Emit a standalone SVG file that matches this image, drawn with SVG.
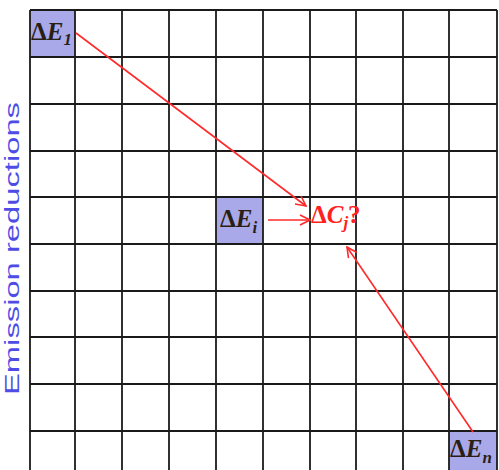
<svg xmlns="http://www.w3.org/2000/svg" width="499" height="470" viewBox="0 0 499 470">
<style>
.grid line{stroke:#1a1a1a;stroke-width:1.8}
.cell{fill:#a9a9ea}
.lbl{font-family:"Liberation Serif",serif;font-weight:bold;font-style:italic;font-size:25px;fill:#2a1f14}
.up{font-style:normal}
.sub{font-size:17px}
.red{fill:#ff2020}
.arr{stroke:#ff2a2a;stroke-width:1.6;fill:none}
.axis{font-family:"Liberation Sans",Arial,sans-serif;font-size:21px;fill:#4d4de6}
</style>
<defs>
<marker id="ah" markerWidth="12" markerHeight="12" refX="11" refY="6" orient="auto" markerUnits="userSpaceOnUse">
<path d="M1,1 L11,6 L1,11" fill="none" stroke="#ff2a2a" stroke-width="1.6"/>
</marker>
</defs>
<rect width="499" height="470" fill="#ffffff"/>
<g id="cell-E1"><rect class="cell" x="30" y="10" width="45" height="47"/></g>
<g id="cell-Ei"><rect class="cell" x="216" y="197" width="47" height="47"/></g>
<g id="cell-En"><rect class="cell" x="449" y="431" width="48" height="39"/></g>
<g class="grid">
<line x1="30" y1="10" x2="30" y2="470"/>
<line x1="75" y1="10" x2="75" y2="470"/>
<line x1="122" y1="10" x2="122" y2="470"/>
<line x1="169" y1="10" x2="169" y2="470"/>
<line x1="216" y1="10" x2="216" y2="470"/>
<line x1="263" y1="10" x2="263" y2="470"/>
<line x1="310" y1="10" x2="310" y2="470"/>
<line x1="356" y1="10" x2="356" y2="470"/>
<line x1="403" y1="10" x2="403" y2="470"/>
<line x1="449" y1="10" x2="449" y2="470"/>
<line x1="497" y1="10" x2="497" y2="470"/>
<line x1="30" y1="10" x2="497" y2="10"/>
<line x1="30" y1="57" x2="497" y2="57"/>
<line x1="30" y1="104" x2="497" y2="104"/>
<line x1="30" y1="151" x2="497" y2="151"/>
<line x1="30" y1="197" x2="497" y2="197"/>
<line x1="30" y1="244" x2="497" y2="244"/>
<line x1="30" y1="291" x2="497" y2="291"/>
<line x1="30" y1="337" x2="497" y2="337"/>
<line x1="30" y1="384" x2="497" y2="384"/>
<line x1="30" y1="431" x2="497" y2="431"/>
</g>
<g id="node-E1"><text class="lbl" x="31" y="40"><tspan class="up">Δ</tspan>E<tspan class="sub" dy="5">1</tspan></text></g>
<g id="node-Ei"><text class="lbl" x="220" y="227"><tspan class="up">Δ</tspan>E<tspan class="sub" dy="6">i</tspan></text></g>
<g id="node-Cj"><text class="lbl red" x="311" y="223"><tspan class="up">Δ</tspan>C<tspan class="sub" dy="5">j</tspan><tspan class="up" dy="-5">?</tspan></text></g>
<g id="node-En"><text class="lbl" x="450" y="457"><tspan class="up">Δ</tspan>E<tspan class="sub" dy="6">n</tspan></text></g>
<g id="connectors">
<line class="arr" x1="76" y1="33" x2="306" y2="206" marker-end="url(#ah)"/>
<line class="arr" x1="268" y1="220" x2="310" y2="220" marker-end="url(#ah)"/>
<line class="arr" x1="473" y1="432" x2="347" y2="247" marker-end="url(#ah)"/>
</g>
<text class="axis" transform="translate(19,395) rotate(-90)" x="0" y="0" textLength="293" lengthAdjust="spacingAndGlyphs">Emission reductions</text>
</svg>
